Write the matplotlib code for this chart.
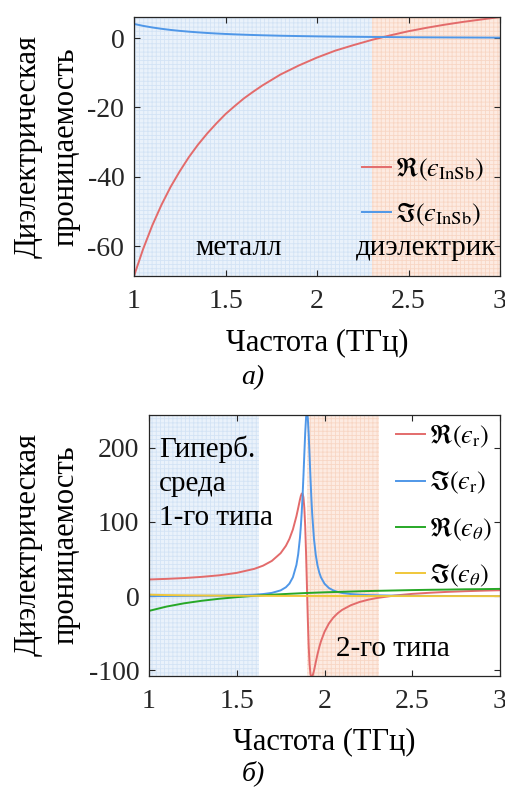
import matplotlib
matplotlib.use("Agg")
import matplotlib.pyplot as plt

plt.rcParams['font.family'] = ['Liberation Serif', 'DejaVu Serif']
plt.rcParams['mathtext.fontset'] = 'stix'
plt.rcParams['axes.unicode_minus'] = False
plt.rcParams['hatch.linewidth'] = 0.6

# data

# (a) InSb permittivity
freq_top = [1.0, 1.05, 1.1, 1.15, 1.2, 1.25, 1.3, 1.35, 1.4, 1.45, 1.5, 1.55, 1.6, 1.65,
            1.7, 1.8, 1.9, 2.0, 2.1, 2.2, 2.3, 2.4, 2.5, 2.6, 2.7, 2.8, 2.9, 3.0]
re_insb = [-68.6, -60.8, -54.0, -48.1, -42.9, -38.4, -34.3, -30.7, -27.5, -24.6, -21.9, -19.6,
           -17.4, -15.5, -13.7, -10.5, -7.9, -5.6, -3.6, -2.0, -0.5, 0.8, 2.0, 3.0, 3.9, 4.7,
           5.4, 6.1]
im_insb = [4.1, 3.54, 3.08, 2.70, 2.37, 2.10, 1.87, 1.67, 1.49, 1.34, 1.21, 1.10, 1.00, 0.91,
           0.83, 0.70, 0.60, 0.51, 0.44, 0.39, 0.34, 0.30, 0.26, 0.23, 0.21, 0.19, 0.17, 0.15]

# (б) hyperbolic medium, eps_r
freq_r = [1.0, 1.1, 1.2, 1.3, 1.4, 1.5, 1.6, 1.65, 1.7, 1.75, 1.78, 1.8, 1.82, 1.84, 1.85,
          1.86, 1.865, 1.87, 1.875, 1.88, 1.885, 1.89, 1.895, 1.9, 1.905, 1.91, 1.915, 1.92,
          1.925, 1.93, 1.94, 1.95, 1.96, 1.97, 1.98, 2.0, 2.025, 2.05, 2.075, 2.1, 2.15, 2.2,
          2.25, 2.3, 2.4, 2.5, 2.6, 2.7, 2.8, 2.9, 3.0]
re_eps_r = [22.5, 23.3, 24.4, 26.0, 28.1, 31.4, 36.8, 41.1, 47.5, 57.9, 67.8, 77.1, 89.9, 107.7,
            118.6, 129.9, 134.8, 138.1, 138.3, 133.0, 119.2, 94.2, 57.4, 12.7, -31.6, -67.6,
            -91.7, -104.7, -109.5, -109.0, -100.6, -89.2, -78.3, -68.8, -60.7, -48.0, -36.8,
            -28.9, -23.0, -18.5, -12.2, -7.8, -4.7, -2.4, 0.9, 3.1, 4.6, 5.8, 6.7, 7.4, 8.0]
im_eps_r = [0.20, 0.26, 0.35, 0.49, 0.71, 1.11, 1.98, 2.85, 4.44, 7.8, 12.0, 16.9, 25.5, 42.1,
            56.4, 78.3, 93.3, 112.0, 134.7, 161.5, 191.0, 219.5, 240.8, 248.4, 239.6, 217.5,
            188.7, 159.3, 132.8, 110.4, 77.3, 55.8, 41.6, 32.0, 25.3, 16.8, 11.0, 7.8, 5.75,
            4.4, 2.85, 1.98, 1.46, 1.12, 0.71, 0.49, 0.36, 0.27, 0.22, 0.17, 0.14]

# (б) eps_theta
freq_t = [1.0, 1.1, 1.2, 1.3, 1.4, 1.5, 1.6, 1.7, 1.8, 1.9, 2.0,
          2.1, 2.2, 2.3, 2.4, 2.5, 2.6, 2.7, 2.8, 2.9, 3.0]
re_eps_t = [-19.8, -14.0, -9.6, -6.2, -3.5, -1.3, 0.5, 2.0, 3.2, 4.3, 5.2,
            5.9, 6.6, 7.2, 7.7, 8.2, 8.6, 8.9, 9.3, 9.5, 9.8]
im_eps_t = [2.0, 1.5, 1.16, 0.91, 0.73, 0.59, 0.49, 0.41, 0.34, 0.29, 0.25,
            0.22, 0.19, 0.16, 0.15, 0.13, 0.11, 0.10, 0.09, 0.08, 0.07]

RED = '#e36b6b'
BLUE = '#4f97e8'
GREEN = '#27a827'
YELLOW = '#f0c73a'
EPS = '\u03f5'

W, H = 506, 787
fig = plt.figure(figsize=(W / 100, H / 100), dpi=100)


def px_axes(l, t, r, b):
    return fig.add_axes([l / W, 1 - b / H, (r - l) / W, (b - t) / H])


def style(ax):
    ax.tick_params(direction='in', length=4, width=0.8, top=True, right=True,
                   labelsize=20, pad=7, colors='#262626')
    ax.tick_params(axis='x', pad=9)
    for s in ax.spines.values():
        s.set_color('#262626')
        s.set_linewidth(0.9)


def shade(ax, x0, x1, face, hatchc):
    ax.axvspan(x0, x1, facecolor=face, edgecolor=hatchc, hatch='++++', lw=0, zorder=0)


# ---- (a) ----
ax1 = px_axes(134, 17, 500, 276)
shade(ax1, 1, 2.3, '#eaf2fb', '#d3e3f5')
shade(ax1, 2.3, 3, '#fdebe2', '#f8d6c4')
ax1.plot(freq_top, re_insb, color=RED, lw=1.4, label=r'$\Re(' + EPS + r'_{\rm InSb})$')
ax1.plot(freq_top, im_insb, color=BLUE, lw=1.4, label=r'$\Im(' + EPS + r'_{\rm InSb})$')
ax1.set_xlim(1, 3)
ax1.set_ylim(-68.6, 6.1)
ax1.set_xticks([1, 1.5, 2, 2.5, 3])
ax1.set_xticklabels(['1', '1.5', '2', '2.5', '3'])
ax1.set_yticks([-60, -40, -20, 0])
style(ax1)
ax1.legend(loc='center right', bbox_to_anchor=(1.0, 0.325), frameon=False, fontsize=19,
           handlelength=1.1, handletextpad=0.15, labelspacing=0.65, borderaxespad=0.2)
ax1.text(1.57, -60.5, 'металл', fontsize=21, ha='center', va='center')
ax1.text(2.595, -60.5, 'диэлектрик', fontsize=21, ha='center', va='center')
fig.text(47 / W, 1 - 147 / H, 'Диэлектрическая\nпроницаемость', rotation=90,
         fontsize=22, ha='center', va='center', multialignment='center', linespacing=1.4)
fig.text(317 / W, 1 - 343 / H, 'Частота (ТГц)', fontsize=22, ha='center', va='center')
fig.text(253 / W, 1 - 378 / H, 'а)', fontsize=20, style='italic', ha='center', va='center')

# ---- (б) ----
ax2 = px_axes(149, 415, 500, 676)
shade(ax2, 1, 1.625, '#eaf2fb', '#d3e3f5')
shade(ax2, 1.9, 2.31, '#fdebe2', '#f8d6c4')
ax2.plot(freq_r, re_eps_r, color=RED, lw=1.4, label=r'$\Re(' + EPS + r'_{\rm r})$')
ax2.plot(freq_r, im_eps_r, color=BLUE, lw=1.4, label=r'$\Im(' + EPS + r'_{\rm r})$')
ax2.plot(freq_t, re_eps_t, color=GREEN, lw=1.4, label=r'$\Re(' + EPS + r'_{\theta})$')
ax2.plot(freq_t, im_eps_t, color=YELLOW, lw=1.4, label=r'$\Im(' + EPS + r'_{\theta})$')
ax2.set_xlim(1, 3)
ax2.set_ylim(-107.5, 244)
ax2.set_xticks([1, 1.5, 2, 2.5, 3])
ax2.set_xticklabels(['1', '1.5', '2', '2.5', '3'])
ax2.set_yticks([-100, 0, 100, 200])
style(ax2)
ax2.legend(loc='upper right', frameon=False, fontsize=19, borderpad=0.2,
           handlelength=1.1, handletextpad=0.15, labelspacing=0.72, borderaxespad=0.1)
ax2.text(1.057, 152, 'Гиперб.\nсреда\n1-го типа', fontsize=21, ha='left', va='center',
         linespacing=1.4)
ax2.text(2.065, -71, '2-го типа', fontsize=21, ha='left', va='center')
fig.text(47 / W, 1 - 545 / H, 'Диэлектрическая\nпроницаемость', rotation=90,
         fontsize=22, ha='center', va='center', multialignment='center', linespacing=1.4)
fig.text(324 / W, 1 - 742 / H, 'Частота (ТГц)', fontsize=22, ha='center', va='center')
fig.text(253 / W, 1 - 773 / H, 'б)', fontsize=20, style='italic', ha='center', va='center')

fig.savefig('out.png', dpi=100)
